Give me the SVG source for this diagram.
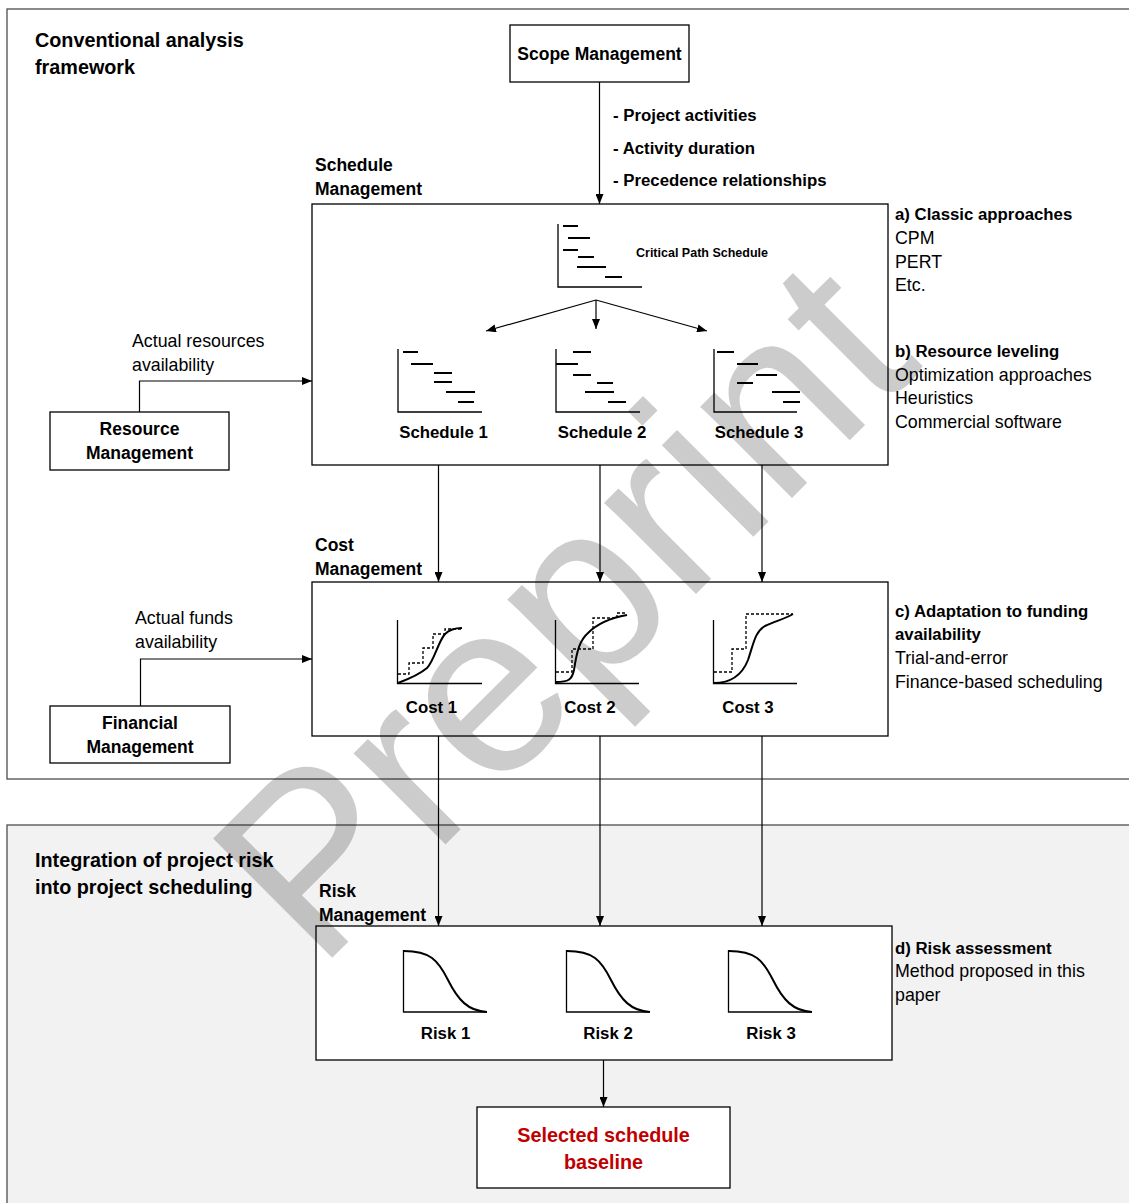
<svg xmlns="http://www.w3.org/2000/svg" width="1129" height="1203" viewBox="0 0 1129 1203">
<style>
.t{font-family:"Liberation Sans",Arial,sans-serif;fill:#000}
.b{font-weight:bold}
.h{font-size:19.8px;font-weight:bold}
.lb{font-size:17.5px;font-weight:bold}
.cl{font-size:16.8px;font-weight:bold}
.r{font-size:17.8px}
.frame{stroke:#4d4d4d;stroke-width:1.3}
.box{fill:#fff;stroke:#000;stroke-width:1.3}
.ax{fill:none;stroke:#000;stroke-width:1.3}
.bar{stroke:#000;stroke-width:2.2}
.cv{fill:none;stroke:#000;stroke-width:2}
.dash{fill:none;stroke:#000;stroke-width:1.3;stroke-dasharray:3 2}
.con{fill:none;stroke:#000;stroke-width:1.2;marker-end:url(#ah)}
.wm{font-family:"Liberation Sans",Arial,sans-serif;font-size:245px;fill:#000;fill-opacity:0.2}
</style>
<defs>
<marker id="ah" markerUnits="userSpaceOnUse" viewBox="0 0 10 8" refX="10" refY="4" markerWidth="10" markerHeight="8" orient="auto">
<path d="M0,0 L10,4 L0,8 z" fill="#000"/>
</marker>
</defs>
<rect width="1129" height="1203" fill="#fff"/>
<g id="frame-conventional">
<rect class="frame" x="7" y="9" width="1130" height="770" fill="#fff"/>
<text class="t h" x="35" y="47">Conventional analysis</text>
<text class="t h" x="35" y="74">framework</text>
</g>
<g id="frame-integration">
<rect class="frame" x="7" y="825" width="1130" height="390" fill="#f2f2f2"/>
<text class="t h" x="35" y="867">Integration of project risk</text>
<text class="t h" x="35" y="894">into project scheduling</text>
</g>

<g id="scope">
<rect class="box" x="510" y="25" width="179" height="57"/>
<text class="t lb" x="599.5" y="60" text-anchor="middle">Scope Management</text>
</g>
<g id="scope-outputs">
<text class="t cl" x="613" y="121">- Project activities</text>
<text class="t cl" x="613" y="154">- Activity duration</text>
<text class="t cl" x="613" y="186">- Precedence relationships</text>
</g>

<g id="schedule">
<text class="t lb" x="315" y="171">Schedule</text>
<text class="t lb" x="315" y="195">Management</text>
<rect class="box" x="312" y="204" width="576" height="261"/>
<g id="critical-path">
<path class="ax" d="M558,224 V287 H642"/>
<path class="bar" d="M563,226 H578 M568,238 H590 M563,250 H578 M578,257 H594 M577,267 H606 M605,277 H622"/>
<text class="t b" x="636" y="257" font-size="12.5">Critical Path Schedule</text>
</g>
<g id="schedule1">
<path class="ax" d="M398,349 V412 H482"/>
<path class="bar" d="M403,352 H418 M411,364 H433 M434,373 H452 M434,382 H452 M446,392 H475 M458,402 H474"/>
<text class="t cl" x="443.5" y="438" text-anchor="middle">Schedule 1</text>
</g>
<g id="schedule2">
<path class="ax" d="M556,349 V412 H640"/>
<path class="bar" d="M573,352 H591 M556,364 H578 M573,375 H591 M597,383 H613 M585,392 H614 M608,402 H626"/>
<text class="t cl" x="602" y="438" text-anchor="middle">Schedule 2</text>
</g>
<g id="schedule3">
<path class="ax" d="M714,349 V412 H797"/>
<path class="bar" d="M717,352 H734 M737,364 H758 M756,375 H777 M737,383 H753 M772,392 H800 M783,402 H800"/>
<text class="t cl" x="759" y="438" text-anchor="middle">Schedule 3</text>
</g>
</g>

<g id="resource">
<rect class="box" x="50" y="412" width="179" height="58"/>
<text class="t lb" x="139.5" y="435" text-anchor="middle">Resource</text>
<text class="t lb" x="139.5" y="459" text-anchor="middle">Management</text>
</g>

<g id="cost">
<text class="t lb" x="315" y="551">Cost</text>
<text class="t lb" x="315" y="575">Management</text>
<rect class="box" x="312" y="582" width="576" height="154"/>
<g id="cost1">
<path class="ax" d="M397.5,620 V683.5 H482"/>
<path class="dash" d="M398,674 H409 V663 H423 V648 H433 V634 H445 V629 H461"/>
<path class="cv" d="M398,683 C406,680 420,674 427,668 C434,661 438,642 445,634 C450,629 455,628 462,628"/>
<text class="t cl" x="431.5" y="713" text-anchor="middle">Cost 1</text>
</g>
<g id="cost2">
<path class="ax" d="M555.5,620 V683.5 H639"/>
<path class="dash" d="M556,672 H572 V649 H593 V618 H617 V613 H627"/>
<path class="cv" d="M556,682 C568,682 572,680 574,670 C577,650 580,640 588,633 C597,624 610,618 627,615"/>
<text class="t cl" x="590" y="713" text-anchor="middle">Cost 2</text>
</g>
<g id="cost3">
<path class="ax" d="M713.5,620 V683.5 H797"/>
<path class="dash" d="M714,672 H732 V649 H746 V614 H793"/>
<path class="cv" d="M714,683 C730,683 742,675 748,660 C754,642 755,632 765,626 C775,621 785,619 793,614"/>
<text class="t cl" x="748" y="713" text-anchor="middle">Cost 3</text>
</g>
</g>

<g id="financial">
<rect class="box" x="50" y="706" width="180" height="57"/>
<text class="t lb" x="140" y="729" text-anchor="middle">Financial</text>
<text class="t lb" x="140" y="753" text-anchor="middle">Management</text>
</g>

<g id="risk">
<text class="t lb" x="319" y="897">Risk</text>
<text class="t lb" x="319" y="921">Management</text>
<rect class="box" x="316" y="926" width="576" height="134"/>
<g id="risk1">
<path class="ax" d="M403.5,950 V1012 H487"/>
<path class="cv" d="M404,951 C430,951 438,960 448,980 C458,1000 468,1011 487,1012"/>
<text class="t cl" x="445.5" y="1039" text-anchor="middle">Risk 1</text>
</g>
<g id="risk2">
<path class="ax" d="M566.5,950 V1012 H650"/>
<path class="cv" d="M567,951 C593,951 601,960 611,980 C621,1000 631,1011 650,1012"/>
<text class="t cl" x="608" y="1039" text-anchor="middle">Risk 2</text>
</g>
<g id="risk3">
<path class="ax" d="M728.5,950 V1012 H812"/>
<path class="cv" d="M729,951 C755,951 763,960 773,980 C783,1000 793,1011 812,1012"/>
<text class="t cl" x="771" y="1039" text-anchor="middle">Risk 3</text>
</g>
</g>

<g id="selected">
<rect class="box" x="477" y="1107" width="253" height="81"/>
<text class="t h" x="603.5" y="1142" text-anchor="middle" style="fill:#c00000">Selected schedule</text>
<text class="t h" x="603.5" y="1169" text-anchor="middle" style="fill:#c00000">baseline</text>
</g>

<g id="annotations">
<text class="t cl" x="895" y="220">a) Classic approaches</text>
<text class="t r" x="895" y="244">CPM</text>
<text class="t r" x="895" y="268">PERT</text>
<text class="t r" x="895" y="291">Etc.</text>
<text class="t cl" x="895" y="357">b) Resource leveling</text>
<text class="t r" x="895" y="381">Optimization approaches</text>
<text class="t r" x="895" y="404">Heuristics</text>
<text class="t r" x="895" y="428">Commercial software</text>
<text class="t cl" x="895" y="617">c) Adaptation to funding</text>
<text class="t cl" x="895" y="640">availability</text>
<text class="t r" x="895" y="664">Trial-and-error</text>
<text class="t r" x="895" y="688">Finance-based scheduling</text>
<text class="t cl" x="895" y="954">d) Risk assessment</text>
<text class="t r" x="895" y="977">Method proposed in this</text>
<text class="t r" x="895" y="1001">paper</text>
</g>

<g id="connectors">
<path class="con" d="M599.5,82 V204"/>
<path class="con" d="M596,300 L486,331"/>
<path class="con" d="M596,300 V329"/>
<path class="con" d="M596,300 L707,331"/>
<path class="con" d="M139.5,412 V381 H312"/>
<text class="t r" x="132" y="347">Actual resources</text>
<text class="t r" x="132" y="371">availability</text>
<path class="con" d="M140.5,706 V659 H312"/>
<text class="t r" x="135" y="624">Actual funds</text>
<text class="t r" x="135" y="648">availability</text>
<path class="con" d="M438.5,465 V582"/>
<path class="con" d="M600,465 V582"/>
<path class="con" d="M762,465 V582"/>
<path class="con" d="M438.5,736 V926"/>
<path class="con" d="M600,736 V926"/>
<path class="con" d="M762,736 V926"/>
<path class="con" d="M603.5,1060 V1107"/>
</g>

<text class="wm" transform="translate(318,972) rotate(-45)">Preprint</text>
</svg>
